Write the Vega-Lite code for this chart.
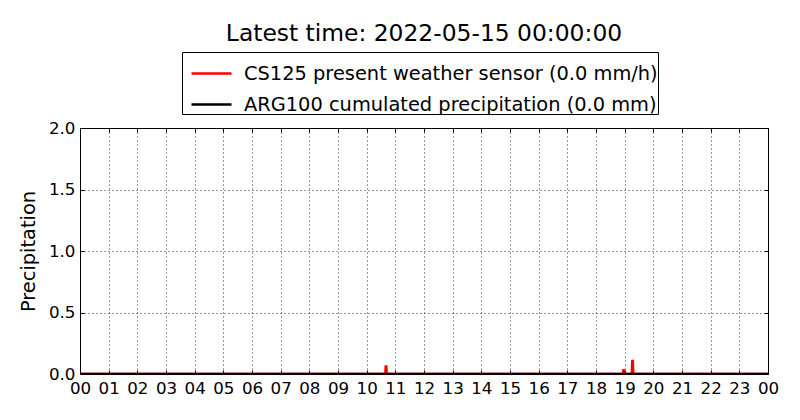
{
  "$schema": "https://vega.github.io/schema/vega-lite/v6.json",
  "width": 688,
  "height": 246,
  "autosize": "none",
  "padding": {"left": 80, "top": 128, "right": 32, "bottom": 46},
  "background": "white",
  "config": {
    "font": "DejaVu Sans",
    "view": {"stroke": "black", "strokeWidth": 1}
  },
  "title": {
    "text": "Latest time: 2022-05-15 00:00:00",
    "fontSize": 23.4,
    "fontWeight": "normal",
    "color": "black",
    "anchor": "middle",
    "baseline": "alphabetic",
    "offset": -13
  },
  "data": {
    "values": [
      {"series": "CS125 present weather sensor (0.0 mm/h)", "hour": 0, "precip": 0},
      {"series": "CS125 present weather sensor (0.0 mm/h)", "hour": 10.65, "precip": 0},
      {"series": "CS125 present weather sensor (0.0 mm/h)", "hour": 10.665, "precip": 0.06},
      {"series": "CS125 present weather sensor (0.0 mm/h)", "hour": 10.685, "precip": 0.06},
      {"series": "CS125 present weather sensor (0.0 mm/h)", "hour": 10.7, "precip": 0},
      {"series": "CS125 present weather sensor (0.0 mm/h)", "hour": 18.94, "precip": 0},
      {"series": "CS125 present weather sensor (0.0 mm/h)", "hour": 18.955, "precip": 0.03},
      {"series": "CS125 present weather sensor (0.0 mm/h)", "hour": 18.975, "precip": 0.03},
      {"series": "CS125 present weather sensor (0.0 mm/h)", "hour": 18.99, "precip": 0},
      {"series": "CS125 present weather sensor (0.0 mm/h)", "hour": 19.25, "precip": 0},
      {"series": "CS125 present weather sensor (0.0 mm/h)", "hour": 19.265, "precip": 0.105},
      {"series": "CS125 present weather sensor (0.0 mm/h)", "hour": 19.285, "precip": 0.105},
      {"series": "CS125 present weather sensor (0.0 mm/h)", "hour": 19.3, "precip": 0},
      {"series": "CS125 present weather sensor (0.0 mm/h)", "hour": 24, "precip": 0},
      {"series": "ARG100 cumulated precipitation (0.0 mm)", "hour": 0, "precip": 0},
      {"series": "ARG100 cumulated precipitation (0.0 mm)", "hour": 24, "precip": 0}
    ]
  },
  "layer": [
    {
      "mark": {"type": "line", "strokeWidth": 2.5, "clip": true},
      "encoding": {
        "x": {
          "field": "hour",
          "type": "quantitative",
          "scale": {"domain": [0, 24], "nice": false, "zero": false},
          "axis": {
            "title": null,
            "orient": "bottom",
            "values": [0, 1, 2, 3, 4, 5, 6, 7, 8, 9, 10, 11, 12, 13, 14, 15, 16, 17, 18, 19, 20, 21, 22, 23, 24],
            "labelExpr": "datum.value == 24 ? '00' : format(datum.value, '02d')",
            "labelFontSize": 16.7,
            "labelColor": "black",
            "labelPadding": 10,
            "labelFlush": false,
            "labelOverlap": false,
            "domain": false,
            "ticks": true,
            "tickSize": -4,
            "tickColor": "black",
            "grid": true,
            "gridColor": "black",
            "gridDash": [1, 3],
            "gridWidth": 0.8,
            "gridOpacity": 1
          }
        },
        "y": {
          "field": "precip",
          "type": "quantitative",
          "scale": {"domain": [0, 2], "nice": false},
          "axis": {
            "title": "Precipitation",
            "orient": "left",
            "titleFontSize": 19.4,
            "titleFontWeight": "normal",
            "titleColor": "black",
            "titlePadding": 10,
            "values": [0, 0.5, 1, 1.5, 2],
            "format": ".1f",
            "labelFontSize": 16.7,
            "labelColor": "black",
            "labelPadding": 9,
            "labelFlush": false,
            "domain": false,
            "ticks": true,
            "tickSize": -4,
            "tickColor": "black",
            "grid": true,
            "gridColor": "black",
            "gridDash": [1, 3],
            "gridWidth": 0.8,
            "gridOpacity": 1
          }
        },
        "color": {
          "field": "series",
          "type": "nominal",
          "sort": null,
          "scale": {
            "domain": ["CS125 present weather sensor (0.0 mm/h)", "ARG100 cumulated precipitation (0.0 mm)"],
            "range": ["red", "black"]
          },
          "legend": {
            "title": null,
            "orient": "none",
            "legendX": 102,
            "legendY": -76,
            "direction": "vertical",
            "strokeColor": "black",
            "fillColor": "white",
            "padding": 0,
            "symbolOffset": 8,
            "symbolType": "stroke",
            "symbolSize": 1600,
            "symbolStrokeWidth": 2.5,
            "labelFontSize": 19.4,
            "labelColor": "black",
            "labelOffset": 11,
            "labelLimit": 600,
            "rowPadding": -11
          }
        }
      }
    },
    {
      "mark": {"type": "line", "opacity": 0},
      "encoding": {
        "x": {
          "field": "hour",
          "type": "quantitative",
          "axis": {
            "title": null,
            "orient": "top",
            "values": [0, 1, 2, 3, 4, 5, 6, 7, 8, 9, 10, 11, 12, 13, 14, 15, 16, 17, 18, 19, 20, 21, 22, 23, 24],
            "labels": false,
            "domain": false,
            "grid": false,
            "ticks": true,
            "tickSize": -4,
            "tickColor": "black"
          }
        },
        "y": {
          "field": "precip",
          "type": "quantitative",
          "axis": {
            "title": null,
            "orient": "right",
            "values": [0, 0.5, 1, 1.5, 2],
            "labels": false,
            "domain": false,
            "grid": false,
            "ticks": true,
            "tickSize": -4,
            "tickColor": "black"
          }
        }
      }
    }
  ],
  "resolve": {"axis": {"x": "independent", "y": "independent"}}
}
